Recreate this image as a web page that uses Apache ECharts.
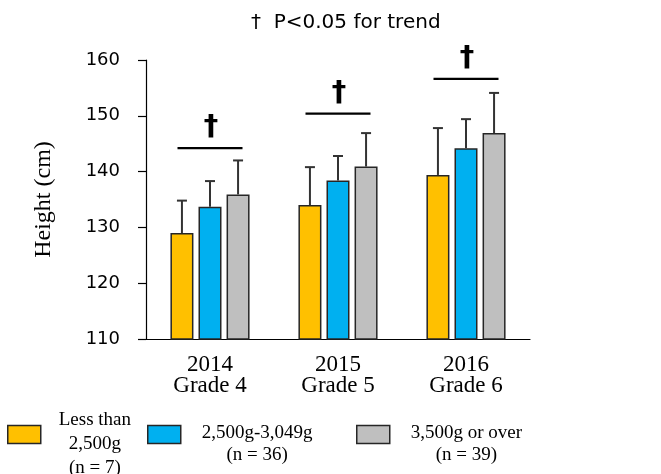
<!DOCTYPE html>
<html>
<head>
<meta charset="utf-8">
<script src="https://cdn.jsdelivr.net/npm/echarts@6/dist/echarts.min.js"></script>
<style>
  html, body { margin: 0; padding: 0; background: #fff; }
  #chart { width: 661px; height: 474px; }
</style>
</head>
<body>
<div id="chart"></div>
<script>
// Height by birth-weight group, grades 4 to 6
const categories = ['2014\nGrade 4', '2015\nGrade 5', '2016\nGrade 6'];
const groupNames = ['Less than 2,500g (n = 7)', '2,500g-3,049g (n = 36)', '3,500g or over (n = 39)'];
const legendLines = [
  ['Less than', '2,500g', '(n = 7)'],
  ['2,500g-3,049g', '(n = 36)'],
  ['3,500g or over', '(n = 39)']
];
const meanLow = [129.0, 134.0, 139.4];
const meanMid = [133.7, 138.4, 144.2];
const meanHigh = [135.9, 140.9, 146.9];
const sdLow = [5.8, 6.8, 8.4];
const sdMid = [4.6, 4.4, 5.2];
const sdHigh = [6.1, 6.0, 7.2];
// level of the trend bracket above each grade
const trendLevel = [144.2, 150.4, 156.6];
const yTicks = { min: 110, max: 160, interval: 10 };

const colors = ['#FFC000', '#00B0F0', '#BFBFBF'];
const BAR_W = 23;
const BAR_GAP = 0.22;
const SERIF = '"Liberation Serif", "Times New Roman", serif';
const SANS = '"DejaVu Sans", Verdana, sans-serif';

const means = [meanLow, meanMid, meanHigh];
const sds = [sdLow, sdMid, sdHigh];

const barSeries = means.map((vals, i) => ({
  name: groupNames[i],
  type: 'bar',
  data: vals,
  barWidth: BAR_W,
  barGap: (BAR_GAP * 100) + '%',
  itemStyle: { color: colors[i], borderColor: '#262626', borderWidth: 1.5 },
  z: 2
}));

// upper SD whisker for each bar, offset to sit on its own bar
const errSeries = means.map((vals, i) => ({
  type: 'custom',
  z: 3,
  silent: true,
  data: vals.map((m, k) => [k, m, sds[i][k]]),
  renderItem: function (params, api) {
    const k = api.value(0);
    const m = api.value(1);
    const s = api.value(2);
    const off = (i - 1) * BAR_W * (1 + BAR_GAP);
    const base = api.coord([k, m]);
    const top = api.coord([k, m + s]);
    const x = base[0] + off;
    const st = { stroke: '#333', lineWidth: 2 };
    return {
      type: 'group',
      children: [
        { type: 'line', shape: { x1: x, y1: base[1], x2: x, y2: top[1] }, style: st },
        { type: 'line', shape: { x1: x - 5, y1: top[1], x2: x + 5, y2: top[1] }, style: st }
      ]
    };
  }
}));

// trend bracket with dagger over each grade
const trendSeries = {
  type: 'custom',
  z: 3,
  silent: true,
  data: trendLevel.map((v, k) => [k, v]),
  renderItem: function (params, api) {
    const p = api.coord([api.value(0), api.value(1)]);
    return {
      type: 'group',
      children: [
        { type: 'line', shape: { x1: p[0] - 32.5, y1: p[1], x2: p[0] + 32.5, y2: p[1] },
          style: { stroke: '#000', lineWidth: 2.2 } },
        { type: 'text', x: p[0] + 1, y: p[1] - 6,
          style: { text: '\u2020', font: 'bold 29px ' + SANS, fill: '#000',
                   align: 'center', verticalAlign: 'bottom' } }
      ]
    };
  }
};

const legendPos = [
  { left: 7, top: 411, pad: 13 },
  { left: 147, top: 424, pad: 16 },
  { left: 356, top: 424, pad: 16 }
];
const legends = groupNames.map((name, i) => ({
  data: [name],
  left: legendPos[i].left,
  top: legendPos[i].top,
  padding: 0,
  orient: 'horizontal',
  icon: 'rect',
  itemWidth: 33,
  itemHeight: 18,
  selectedMode: false,
  itemStyle: { borderColor: '#262626', borderWidth: 1.5 },
  formatter: () => legendLines[i].map(t => '{c|' + t + '}').join('\n'),
  textStyle: {
    fontFamily: SERIF, fontSize: 19, color: '#000',
    padding: [20, 0, 0, legendPos[i].pad],
    rich: { c: { align: 'center', fontFamily: SERIF, fontSize: 19, color: '#000',
                 lineHeight: i === 0 ? 24 : 22 } }
  }
}));

const chart = echarts.init(document.getElementById('chart'), null, { renderer: 'canvas' });
chart.setOption({
  animation: false,
  backgroundColor: '#fff',
  title: {
    text: '\u2020  P<0.05 for trend',
    left: 246, top: 8,
    textStyle: { fontFamily: SANS, fontSize: 20, fontWeight: 'normal', color: '#000' }
  },
  legend: legends,
  grid: { left: 146, right: 131, top: 60, bottom: 135, containLabel: false },
  xAxis: {
    type: 'category',
    data: categories,
    axisLine: { lineStyle: { color: '#000', width: 1.2 } },
    axisTick: { show: false },
    axisLabel: { fontFamily: SERIF, fontSize: 23, color: '#000', lineHeight: 21, margin: 15 }
  },
  yAxis: {
    type: 'value',
    min: yTicks.min, max: yTicks.max, interval: yTicks.interval,
    name: 'Height (cm)',
    nameLocation: 'middle',
    nameGap: 90,
    nameTextStyle: { fontFamily: SERIF, fontSize: 24, color: '#000' },
    axisLine: { show: true, lineStyle: { color: '#000', width: 1.2 } },
    axisTick: { show: true, length: 8, lineStyle: { color: '#000', width: 1.2 } },
    axisLabel: { fontFamily: SANS, fontSize: 18, color: '#000', margin: 26 },
    splitLine: { show: false }
  },
  series: [...barSeries, ...errSeries, trendSeries]
});
</script>
</body>
</html>
